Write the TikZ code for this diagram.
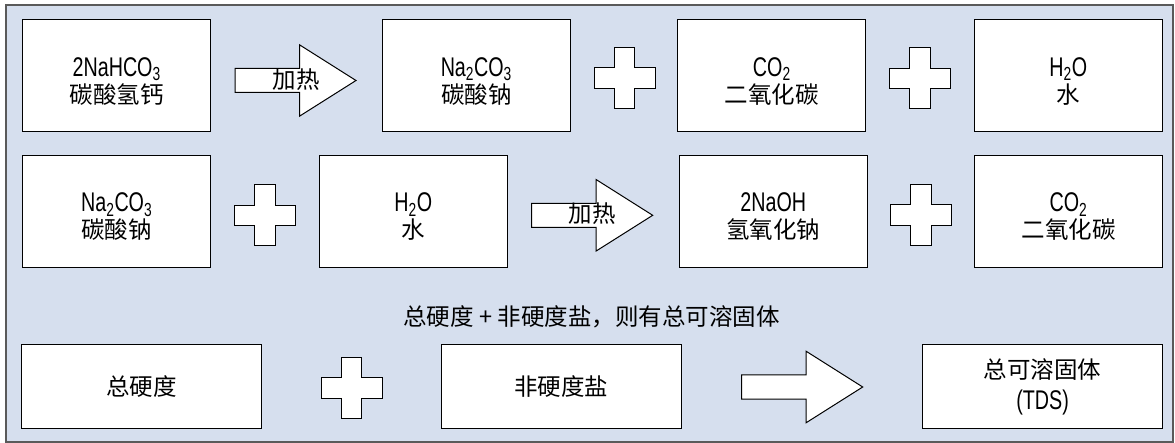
\documentclass[tikz,border=0pt]{standalone}
\usepackage{fontspec}
\setmainfont{Liberation Sans}[FakeStretch=0.73]
\newfontfamily\cjkfont{Noto Sans CJK SC}
\newcommand\zhtext[1]{{\cjkfont\fontsize{23.5}{27}\selectfont #1}}
\newcommand\liftline{\rule{0pt}{29.3pt}}
\definecolor{bgblue}{RGB}{214,223,238}
\definecolor{framegray}{RGB}{90,90,90}
\tikzset{
  box/.style={draw=black, line width=1pt, fill=white, minimum width=188pt, minimum height=112pt, inner sep=0pt, align=center, font=\fontsize{27}{27}\selectfont},
  widebox/.style={box, minimum width=240pt, minimum height=84.4pt, font=\fontsize{27}{31}\selectfont},
  lbl/.style={align=center, font=\fontsize{27}{27}\selectfont, inner sep=0pt},
  figshape/.style={draw=black, line width=1pt, fill=white, line join=miter},
  plussign/.pic={\path[figshape] (-10.3,-30.5) -- (10.3,-30.5) -- (10.3,-10.3) -- (30.5,-10.3) -- (30.5,10.3) -- (10.3,10.3) -- (10.3,30.5) -- (-10.3,30.5) -- (-10.3,10.3) -- (-30.5,10.3) -- (-30.5,-10.3) -- (-10.3,-10.3) -- cycle;},
  blockarrow/.pic={\path[figshape] (0,-12) -- (64.5,-12) -- (64.5,-35.7) -- (121,0) -- (64.5,35.7) -- (64.5,12) -- (0,12) -- cycle;}
}
\begin{document}
\begin{tikzpicture}[x=1pt,y=-1pt]
\path[use as bounding box] (0,0) rectangle (1175,443);
\draw[draw=framegray, fill=bgblue, line width=1.2pt] (6,5) rectangle (1173,442);

% row 1
\node[box] (r1a) at (116.7,76) {\liftline 2NaHCO\textsubscript{3}\\\zhtext{碳酸氢钙}};
\pic at (235,80.5) {blockarrow};
\node[lbl] (heat1) at (296,79.5) {\zhtext{加热}};
\node[box] (r1b) at (476.3,76) {\liftline Na\textsubscript{2}CO\textsubscript{3}\\\zhtext{碳酸钠}};
\pic at (624.5,78) {plussign};
\node[box] (r1c) at (771.8,76) {\liftline CO\textsubscript{2}\\\zhtext{二氧化碳}};
\pic at (920,78.5) {plussign};
\node[box] (r1d) at (1068.3,76) {\liftline H\textsubscript{2}O\\\zhtext{水}};

% row 2
\node[box] (r2a) at (116.7,211.7) {\liftline Na\textsubscript{2}CO\textsubscript{3}\\\zhtext{碳酸钠}};
\pic at (265.2,215.5) {plussign};
\node[box] (r2b) at (413.3,211.7) {\liftline H\textsubscript{2}O\\\zhtext{水}};
\pic at (531.7,215.3) {blockarrow};
\node[lbl] (heat2) at (592,214) {\zhtext{加热}};
\node[box] (r2c) at (773.3,211.7) {\liftline 2NaOH\\\zhtext{氢氧化钠}};
\pic at (921.2,215) {plussign};
\node[box] (r2d) at (1068.5,211.7) {\liftline CO\textsubscript{2}\\\zhtext{二氧化碳}};

% row 3
\node[lbl] (title) at (591.5,317) {\zhtext{总硬度 + 非硬度盐，则有总可溶固体}};
\node[widebox] (r3a) at (141.3,386.5) {\zhtext{总硬度}};
\pic at (351.5,387.7) {plussign};
\node[widebox] (r3b) at (561,386.5) {\zhtext{非硬度盐}};
\pic at (741.7,387) {blockarrow};
\node[widebox] (r3c) at (1042.6,386.5) {\zhtext{总可溶固体}\\(TDS)};
\end{tikzpicture}
\end{document}
